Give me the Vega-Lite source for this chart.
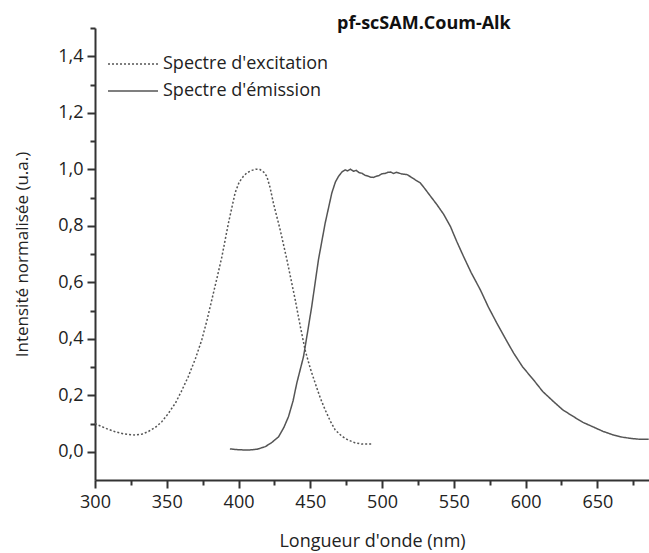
{
  "$schema": "https://vega.github.io/schema/vega-lite/v6.json",
  "width": 554,
  "height": 452,
  "autosize": {"type": "none"},
  "padding": {"left": 95, "top": 28, "right": 0, "bottom": 73},
  "background": "white",
  "config": {
    "view": {"stroke": null},
    "font": "Open Sans",
    "axis": {"grid": false}
  },
  "title": {
    "text": "pf-scSAM.Coum-Alk",
    "anchor": "start",
    "frame": "group",
    "dx": 242,
    "offset": -6,
    "font": "Open Sans",
    "fontSize": 18,
    "fontWeight": "bold",
    "color": "#111"
  },
  "data": {
    "values": [
      {"nm": 300, "int": 0.1, "spectre": "Spectre d'excitation"},
      {"nm": 302, "int": 0.095, "spectre": "Spectre d'excitation"},
      {"nm": 308, "int": 0.082, "spectre": "Spectre d'excitation"},
      {"nm": 314, "int": 0.071, "spectre": "Spectre d'excitation"},
      {"nm": 320, "int": 0.063, "spectre": "Spectre d'excitation"},
      {"nm": 328, "int": 0.059, "spectre": "Spectre d'excitation"},
      {"nm": 333, "int": 0.063, "spectre": "Spectre d'excitation"},
      {"nm": 337, "int": 0.071, "spectre": "Spectre d'excitation"},
      {"nm": 342, "int": 0.086, "spectre": "Spectre d'excitation"},
      {"nm": 346.5, "int": 0.106, "spectre": "Spectre d'excitation"},
      {"nm": 351, "int": 0.135, "spectre": "Spectre d'excitation"},
      {"nm": 356, "int": 0.172, "spectre": "Spectre d'excitation"},
      {"nm": 360, "int": 0.212, "spectre": "Spectre d'excitation"},
      {"nm": 365, "int": 0.266, "spectre": "Spectre d'excitation"},
      {"nm": 370, "int": 0.33, "spectre": "Spectre d'excitation"},
      {"nm": 374.4, "int": 0.396, "spectre": "Spectre d'excitation"},
      {"nm": 378, "int": 0.465, "spectre": "Spectre d'excitation"},
      {"nm": 381.4, "int": 0.538, "spectre": "Spectre d'excitation"},
      {"nm": 385, "int": 0.615, "spectre": "Spectre d'excitation"},
      {"nm": 388.4, "int": 0.69, "spectre": "Spectre d'excitation"},
      {"nm": 393, "int": 0.81, "spectre": "Spectre d'excitation"},
      {"nm": 397.6, "int": 0.916, "spectre": "Spectre d'excitation"},
      {"nm": 400.5, "int": 0.955, "spectre": "Spectre d'excitation"},
      {"nm": 403.4, "int": 0.975, "spectre": "Spectre d'excitation"},
      {"nm": 406, "int": 0.988, "spectre": "Spectre d'excitation"},
      {"nm": 409.3, "int": 0.996, "spectre": "Spectre d'excitation"},
      {"nm": 412, "int": 1.0, "spectre": "Spectre d'excitation"},
      {"nm": 415, "int": 0.999, "spectre": "Spectre d'excitation"},
      {"nm": 417.5, "int": 0.99, "spectre": "Spectre d'excitation"},
      {"nm": 419.7, "int": 0.975, "spectre": "Spectre d'excitation"},
      {"nm": 422, "int": 0.935, "spectre": "Spectre d'excitation"},
      {"nm": 424.3, "int": 0.88, "spectre": "Spectre d'excitation"},
      {"nm": 429, "int": 0.786, "spectre": "Spectre d'excitation"},
      {"nm": 433.7, "int": 0.68, "spectre": "Spectre d'excitation"},
      {"nm": 439.5, "int": 0.538, "spectre": "Spectre d'excitation"},
      {"nm": 443, "int": 0.445, "spectre": "Spectre d'excitation"},
      {"nm": 446.4, "int": 0.36, "spectre": "Spectre d'excitation"},
      {"nm": 450, "int": 0.295, "spectre": "Spectre d'excitation"},
      {"nm": 453.4, "int": 0.243, "spectre": "Spectre d'excitation"},
      {"nm": 457, "int": 0.19, "spectre": "Spectre d'excitation"},
      {"nm": 460.4, "int": 0.148, "spectre": "Spectre d'excitation"},
      {"nm": 464, "int": 0.108, "spectre": "Spectre d'excitation"},
      {"nm": 467.4, "int": 0.077, "spectre": "Spectre d'excitation"},
      {"nm": 472, "int": 0.055, "spectre": "Spectre d'excitation"},
      {"nm": 476.6, "int": 0.041, "spectre": "Spectre d'excitation"},
      {"nm": 481, "int": 0.032, "spectre": "Spectre d'excitation"},
      {"nm": 486, "int": 0.027, "spectre": "Spectre d'excitation"},
      {"nm": 493, "int": 0.027, "spectre": "Spectre d'excitation"},
      {"nm": 394, "int": 0.01, "spectre": "Spectre d'émission"},
      {"nm": 400, "int": 0.007, "spectre": "Spectre d'émission"},
      {"nm": 407, "int": 0.006, "spectre": "Spectre d'émission"},
      {"nm": 413, "int": 0.009, "spectre": "Spectre d'émission"},
      {"nm": 418.6, "int": 0.018, "spectre": "Spectre d'émission"},
      {"nm": 423, "int": 0.032, "spectre": "Spectre d'émission"},
      {"nm": 427.9, "int": 0.053, "spectre": "Spectre d'émission"},
      {"nm": 431.5, "int": 0.085, "spectre": "Spectre d'émission"},
      {"nm": 434.8, "int": 0.124, "spectre": "Spectre d'émission"},
      {"nm": 438, "int": 0.18, "spectre": "Spectre d'émission"},
      {"nm": 440.6, "int": 0.243, "spectre": "Spectre d'émission"},
      {"nm": 445.3, "int": 0.337, "spectre": "Spectre d'émission"},
      {"nm": 448, "int": 0.42, "spectre": "Spectre d'émission"},
      {"nm": 451, "int": 0.514, "spectre": "Spectre d'émission"},
      {"nm": 455.7, "int": 0.68, "spectre": "Spectre d'émission"},
      {"nm": 460.4, "int": 0.81, "spectre": "Spectre d'émission"},
      {"nm": 465, "int": 0.916, "spectre": "Spectre d'émission"},
      {"nm": 467.5, "int": 0.955, "spectre": "Spectre d'émission"},
      {"nm": 469.7, "int": 0.975, "spectre": "Spectre d'émission"},
      {"nm": 472, "int": 0.99, "spectre": "Spectre d'émission"},
      {"nm": 474.3, "int": 0.998, "spectre": "Spectre d'émission"},
      {"nm": 476, "int": 0.994, "spectre": "Spectre d'émission"},
      {"nm": 478, "int": 1.0, "spectre": "Spectre d'émission"},
      {"nm": 480, "int": 0.993, "spectre": "Spectre d'émission"},
      {"nm": 482, "int": 0.996, "spectre": "Spectre d'émission"},
      {"nm": 484, "int": 0.988, "spectre": "Spectre d'émission"},
      {"nm": 486, "int": 0.986, "spectre": "Spectre d'émission"},
      {"nm": 488, "int": 0.979, "spectre": "Spectre d'émission"},
      {"nm": 490, "int": 0.976, "spectre": "Spectre d'émission"},
      {"nm": 492, "int": 0.972, "spectre": "Spectre d'émission"},
      {"nm": 494, "int": 0.971, "spectre": "Spectre d'émission"},
      {"nm": 496, "int": 0.975, "spectre": "Spectre d'émission"},
      {"nm": 498, "int": 0.978, "spectre": "Spectre d'émission"},
      {"nm": 500, "int": 0.984, "spectre": "Spectre d'émission"},
      {"nm": 502, "int": 0.985, "spectre": "Spectre d'émission"},
      {"nm": 504, "int": 0.989, "spectre": "Spectre d'émission"},
      {"nm": 506, "int": 0.99, "spectre": "Spectre d'émission"},
      {"nm": 508, "int": 0.985, "spectre": "Spectre d'émission"},
      {"nm": 510, "int": 0.989, "spectre": "Spectre d'émission"},
      {"nm": 512, "int": 0.986, "spectre": "Spectre d'émission"},
      {"nm": 514, "int": 0.983, "spectre": "Spectre d'émission"},
      {"nm": 517.4, "int": 0.981, "spectre": "Spectre d'émission"},
      {"nm": 520, "int": 0.973, "spectre": "Spectre d'émission"},
      {"nm": 523, "int": 0.963, "spectre": "Spectre d'émission"},
      {"nm": 526.6, "int": 0.952, "spectre": "Spectre d'émission"},
      {"nm": 530, "int": 0.93, "spectre": "Spectre d'émission"},
      {"nm": 534, "int": 0.903, "spectre": "Spectre d'émission"},
      {"nm": 538.2, "int": 0.875, "spectre": "Spectre d'émission"},
      {"nm": 543, "int": 0.84, "spectre": "Spectre d'émission"},
      {"nm": 547.6, "int": 0.798, "spectre": "Spectre d'émission"},
      {"nm": 552, "int": 0.745, "spectre": "Spectre d'émission"},
      {"nm": 556.8, "int": 0.691, "spectre": "Spectre d'émission"},
      {"nm": 562, "int": 0.635, "spectre": "Spectre d'émission"},
      {"nm": 568.5, "int": 0.573, "spectre": "Spectre d'émission"},
      {"nm": 574, "int": 0.513, "spectre": "Spectre d'émission"},
      {"nm": 580, "int": 0.455, "spectre": "Spectre d'émission"},
      {"nm": 586, "int": 0.4, "spectre": "Spectre d'émission"},
      {"nm": 591.7, "int": 0.349, "spectre": "Spectre d'émission"},
      {"nm": 598, "int": 0.3, "spectre": "Spectre d'émission"},
      {"nm": 605.6, "int": 0.254, "spectre": "Spectre d'émission"},
      {"nm": 612, "int": 0.213, "spectre": "Spectre d'émission"},
      {"nm": 619.6, "int": 0.177, "spectre": "Spectre d'émission"},
      {"nm": 626, "int": 0.148, "spectre": "Spectre d'émission"},
      {"nm": 633.5, "int": 0.124, "spectre": "Spectre d'émission"},
      {"nm": 640, "int": 0.104, "spectre": "Spectre d'émission"},
      {"nm": 647.5, "int": 0.087, "spectre": "Spectre d'émission"},
      {"nm": 654, "int": 0.072, "spectre": "Spectre d'émission"},
      {"nm": 661.4, "int": 0.059, "spectre": "Spectre d'émission"},
      {"nm": 668, "int": 0.051, "spectre": "Spectre d'émission"},
      {"nm": 675.4, "int": 0.046, "spectre": "Spectre d'émission"},
      {"nm": 680, "int": 0.044, "spectre": "Spectre d'émission"},
      {"nm": 685.8, "int": 0.044, "spectre": "Spectre d'émission"}
    ]
  },
  "layer": [
    {
      "mark": {"type": "line", "stroke": "#555", "strokeWidth": 1.5, "clip": true},
      "encoding": {
        "x": {
          "field": "nm", "type": "quantitative",
          "scale": {"domain": [300, 686], "nice": false, "zero": false},
          "axis": {
            "orient": "bottom",
            "title": "Longueur d'onde (nm)",
            "values": [300, 350, 400, 450, 500, 550, 600, 650],
            "domainColor": "#333", "domainWidth": 2,
            "tickColor": "#333", "tickWidth": 2, "tickSize": 8,
            "labelFont": "Open Sans", "labelFontSize": 18, "labelColor": "#222", "labelPadding": 5,
            "labelFlush": false, "labelOverlap": false,
            "titleFont": "Open Sans", "titleFontSize": 18, "titleFontWeight": "normal", "titleColor": "#222", "titlePadding": 21
          }
        },
        "y": {
          "field": "int", "type": "quantitative",
          "scale": {"domain": [-0.1, 1.5], "nice": false, "zero": false},
          "axis": {
            "orient": "left",
            "title": "Intensité normalisée (u.a.)",
            "values": [0, 0.2, 0.4, 0.6, 0.8, 1.0, 1.2, 1.4],
            "labelExpr": "replace(format(datum.value, '.1f'), '.', ',')",
            "domainColor": "#333", "domainWidth": 2,
            "tickColor": "#333", "tickWidth": 2, "tickSize": 8,
            "labelFont": "Open Sans", "labelFontSize": 18, "labelColor": "#222", "labelPadding": 4,
            "labelFlush": false, "labelOverlap": false,
            "titleFont": "Open Sans", "titleFontSize": 17, "titleFontWeight": "normal", "titleColor": "#222", "titlePadding": 26
          }
        },
        "strokeDash": {
          "field": "spectre", "type": "nominal",
          "scale": {"domain": ["Spectre d'excitation", "Spectre d'émission"], "range": [[2, 2], [1, 0]]},
          "legend": {
            "title": null,
            "orient": "none",
            "legendX": 29,
            "legendY": 27,
            "padding": 0,
            "symbolType": "M-5,0H5",
            "symbolSize": 100,
            "symbolStrokeColor": "#555",
            "symbolStrokeWidth": 1.4,
            "symbolFillColor": "transparent",
            "labelFont": "Open Sans",
            "labelFontSize": 18,
            "labelColor": "#222",
            "labelOffset": 21,
            "labelLimit": 400,
            "rowPadding": 9
          }
        }
      }
    },
    {
      "mark": {"type": "point", "opacity": 0},
      "encoding": {
        "x": {
          "field": "nm", "type": "quantitative",
          "axis": {
            "orient": "bottom", "title": null, "labels": false, "domain": false,
            "values": [325, 375, 425, 475, 525, 575, 625, 675],
            "tickColor": "#333", "tickWidth": 2, "tickSize": 5
          }
        },
        "y": {
          "field": "int", "type": "quantitative",
          "axis": {
            "orient": "left", "title": null, "labels": false, "domain": false,
            "values": [0.1, 0.3, 0.5, 0.7, 0.9, 1.1, 1.3, 1.5],
            "tickColor": "#333", "tickWidth": 2, "tickSize": 5
          }
        }
      }
    }
  ],
  "resolve": {"axis": {"x": "independent", "y": "independent"}}
}
